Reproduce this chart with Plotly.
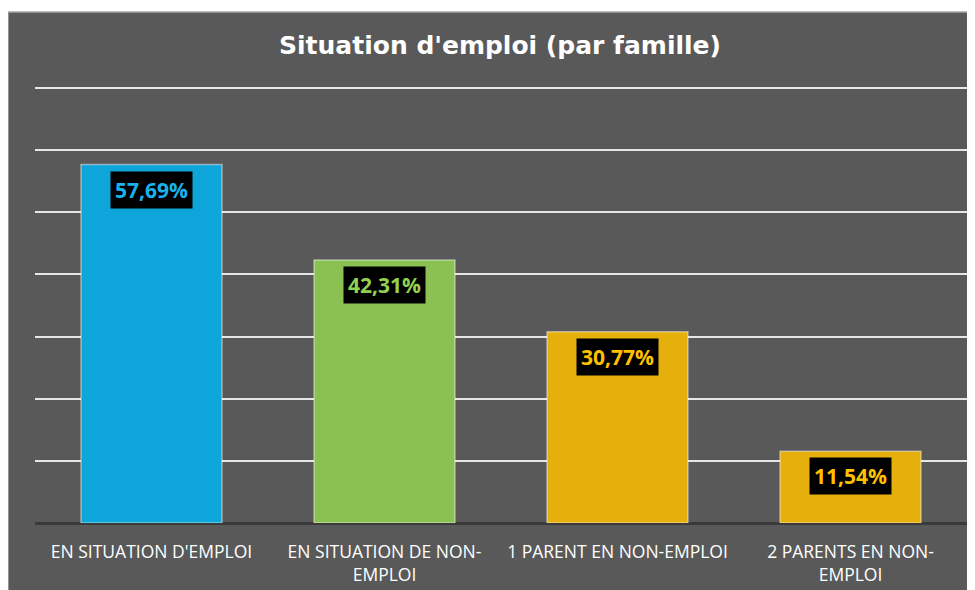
import plotly.graph_objects as go

categories = ["EN SITUATION D'EMPLOI", "EN SITUATION DE NON-<br>EMPLOI",
              "1 PARENT EN NON-EMPLOI", "2 PARENTS EN NON-<br>EMPLOI"]
values = [57.69, 42.31, 30.77, 11.54]
bar_colors = ["#0EA5DA", "#8BC152", "#E5AF0C", "#E5AF0C"]
label_colors = ["#19B2EC", "#92D050", "#FFC000", "#FFC000"]
title_text = "Situation d'emploi (par famille)"

# page body has an 8px margin; figure coords = screen coords - 8
W, H = 967, 582
L, R, T, B = 27, 8, 68, 67
pw = W - L - R
ph = H - T - B
px_per_unit = (523 - 88) / 70.0
ymax = ph / px_per_unit

fig = go.Figure()
fig.add_trace(go.Bar(
    x=categories, y=values,
    marker=dict(color=bar_colors, line=dict(color="rgba(255,255,255,0.45)", width=1.5)),
    width=0.605, hoverinfo="skip",
))

for c, v, lc in zip(categories, values, label_colors):
    fig.add_annotation(
        x=c, y=v, xref="x", yref="y", yshift=-25,
        text="<b>" + f"{v:.2f}".replace(".", ",") + "%</b>",
        showarrow=False, bgcolor="black", borderpad=4,
        font=dict(family="Open Sans", size=21, color=lc),
    )

# gray panel with white outer margin
fig.add_shape(type="rect", xref="paper", yref="paper", layer="below",
              x0=(0 - L) / pw, x1=(W + 5 - L) / pw,
              y0=(H - B - H - 5) / ph, y1=(H - B - 4) / ph,
              fillcolor="#595959", line=dict(color="#A6A6A6", width=1.5))

fig.update_layout(
    width=W, height=H,
    margin=dict(l=L, r=R, t=T, b=B, autoexpand=False),
    paper_bgcolor="white", plot_bgcolor="rgba(0,0,0,0)",
    showlegend=False,
    title=dict(text="<b>" + title_text + "</b>", x=(500 - 8) / W, xanchor="center",
               y=1 - 37 / H, yanchor="middle",
               font=dict(family="DejaVu Sans", size=25, color="white")),
    xaxis=dict(showgrid=False, showline=False, ticks="outside", ticklen=13,
               tickcolor="rgba(0,0,0,0)",
               tickfont=dict(family="Open Sans", size=17.5, color="white")),
    yaxis=dict(range=[0, ymax], tickvals=[10, 20, 30, 40, 50, 60, 70],
               showticklabels=False,
               gridcolor="#E6E6E6", gridwidth=2,
               zeroline=True, zerolinecolor="#3A3A3A", zerolinewidth=3),
)

fig.write_html("out.html")
